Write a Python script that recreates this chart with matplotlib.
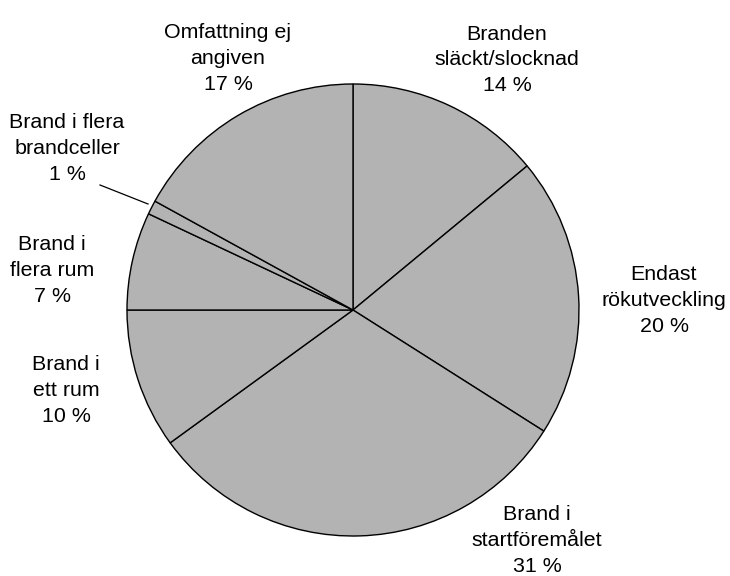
import matplotlib.pyplot as plt

# fire extent shares, clockwise from 12 o'clock
labels = ['Branden\nsläckt/slocknad', 'Endast\nrökutveckling', 'Brand i\nstartföremålet',
          'Brand i\nett rum', 'Brand i\nflera rum', 'Brand i flera\nbrandceller', 'Omfattning ej\nangiven']
shares = [14, 20, 31, 10, 7, 1, 17]

# label anchors: centre x and last-line baseline y (pixels from top-left)
label_xy = [(507, 91), (664, 332), (537, 572), (66, 422), (52, 302), (67, 180), (228, 90)]

W, H = 730, 576
cx, cy, r = 353, 310, 226

plt.rcParams['font.family'] = ['Liberation Sans', 'DejaVu Sans']

fig = plt.figure(figsize=(W / 100, H / 100), dpi=100)
ax = fig.add_axes([0, 0, 1, 1])

wedges, _ = ax.pie(shares, center=(cx, H - cy), radius=r, startangle=90, counterclock=False,
                   colors=['#b3b3b3'] * len(shares),
                   wedgeprops=dict(edgecolor='black', linewidth=1.0))

# pie() rescales the axes, so fix the pixel frame afterwards
ax.set_xlim(0, W)
ax.set_ylim(0, H)
ax.set_aspect('equal')
ax.axis('off')

for lab, val, (x, y) in zip(labels, shares, label_xy):
    ax.text(x, H - y, f'{lab}\n{val} %', ha='center', va='baseline', fontsize=15.4,
            linespacing=1.45, color='black')

# leader line for the small slice
ax.plot([100, 148], [H - 185, H - 204], color='black', lw=0.9)

fig.savefig('out.png', dpi=100)
